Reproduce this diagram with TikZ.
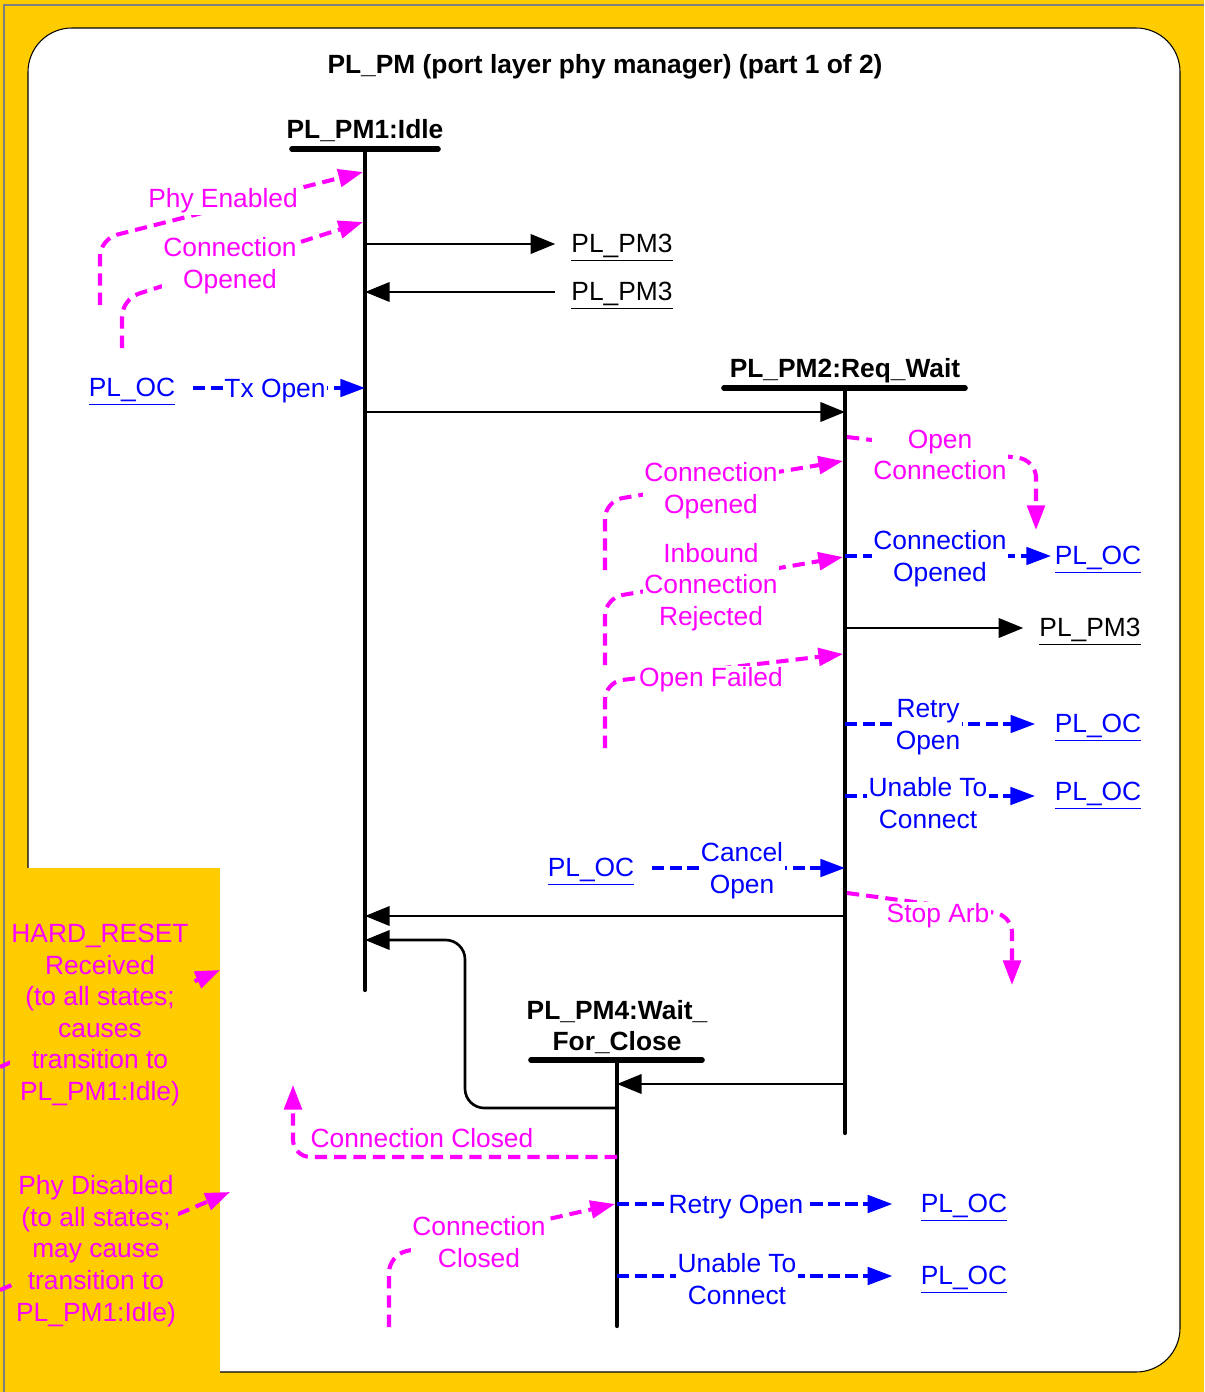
\documentclass[tikz,border=0pt]{standalone}
\usepackage{fontspec}
\setmainfont{Liberation Sans}
\usepackage{xcolor}
\usepackage{tikz}
\usetikzlibrary{arrows.meta}
\definecolor{panelyellow}{HTML}{FFCC00}
\definecolor{evtmagenta}{HTML}{FF00FF}
\definecolor{sigblue}{HTML}{0000FF}

\tikzset{
  statename/.style={font=\fontsize{15}{18}\selectfont\bfseries, align=center, inner sep=1pt, yshift=-1.7pt},
  statebar/.style={line width=3.2pt, line cap=round},
  lifeline/.style={line width=2.4pt, line cap=round},
  trans/.style={line width=1.5pt, -{Triangle[length=14pt, width=11pt]}},
  sig/.style={sigblue, line width=1.8pt, dash pattern=on 7pt off 3pt, -{Triangle[length=14pt, width=10pt]}},
  evt/.style={evtmagenta, line width=2.3pt, dash pattern=on 7pt off 4pt, rounded corners=10pt, -{Triangle[length=14pt, width=10pt]}},
  sigtext/.style={text=sigblue, fill=white, align=center, inner sep=1pt, yshift=-1.7pt},
  evttext/.style={text=evtmagenta, fill=white, align=center, inner sep=1pt, yshift=-1.7pt},
  notetext/.style={text=evtmagenta, fill=panelyellow, align=center, inner sep=1pt, yshift=-1.7pt},
  oclink/.style={text=sigblue, inner sep=2pt, text height=11pt, text depth=1pt},
  pmref/.style={inner sep=2pt, text height=11pt, text depth=1pt}
}

\begin{document}
\begin{tikzpicture}[x=0.02cm, y=-0.02cm, font=\fontsize{15}{18}\selectfont]
  \fill[panelyellow] (0,0) rectangle (1204,1392);
  \useasboundingbox (0,0) rectangle (1204,1392);
  \draw[gray, line width=0.8pt] (4,1392) -- (4,5) -- (1204,5);
  \filldraw[fill=white, draw=black, line width=0.6pt, rounded corners=25pt] (28,28) rectangle (1180,1372);
  \fill[panelyellow] (5,868) rectangle (220,1392);

  \node[statename] (title) at (605,64) {PL\_PM (port layer phy manager) (part 1 of 2)};

  % states
  \node[statename] (pm1) at (365,128) {PL\_PM1:Idle};
  \coordinate (pm1top) at (365,149);
  \coordinate (pm1end) at (365,990);
  \draw[statebar] (292,149) -- (438,149);
  \draw[lifeline] (pm1top) -- (pm1end);

  \node[statename] (pm2) at (845,368) {PL\_PM2:Req\_Wait};
  \coordinate (pm2top) at (845,388);
  \coordinate (pm2end) at (845,1133);
  \draw[statebar] (724,388) -- (965,388);
  \draw[lifeline] (pm2top) -- (pm2end);

  \node[statename] (pm4) at (617,1024) {PL\_PM4:Wait\_\\For\_Close};
  \coordinate (pm4top) at (617,1060);
  \coordinate (pm4end) at (617,1326);
  \draw[statebar] (531,1060) -- (702,1060);
  \draw[lifeline] (pm4top) -- (pm4end);

  % transitions
  \node[pmref] (pm3a) at (622,244) {\underline{PL\_PM3}};
  \node[pmref] (pm3b) at (622,292) {\underline{PL\_PM3}};
  \node[pmref] (pm3c) at (1090,628) {\underline{PL\_PM3}};
  \draw[trans, shorten >=7pt] (pm1top |- pm3a) -- (pm3a);
  \draw[trans, shorten <=7pt] (pm3b) -- (pm1top |- pm3b);
  \draw[trans, shorten >=7pt] (pm2top |- pm3c) -- (pm3c);

  \coordinate (t12) at (365,412);
  \coordinate (t21) at (845,916);
  \coordinate (t24) at (845,1084);
  \coordinate (t41) at (617,1108);
  \coordinate (t41c) at (465,940);
  \coordinate (t41e) at (365,940);
  \draw[trans] (t12) -- (pm2top |- t12);
  \draw[trans] (t21) -- (pm1top |- t21);
  \draw[trans] (t24) -- (pm4top |- t24);
  \draw[trans, rounded corners=11pt] (t41) -| (t41c) -- (t41e);

  % signals to and from PL_OC
  \node[oclink] (oc1) at (132,388) {\underline{PL\_OC}};
  \node[oclink] (oc2) at (1098,556) {\underline{PL\_OC}};
  \node[oclink] (oc3) at (1098,724) {\underline{PL\_OC}};
  \node[oclink] (oc4) at (1098,792) {\underline{PL\_OC}};
  \node[oclink] (oc5) at (591,868) {\underline{PL\_OC}};
  \node[oclink] (oc6) at (964,1204) {\underline{PL\_OC}};
  \node[oclink] (oc7) at (964,1276) {\underline{PL\_OC}};
  \coordinate (u1t) at (1035,796);
  \draw[sig, shorten <=8pt] (oc1) -- (pm1top |- oc1);
  \draw[sig] (pm2top |- oc2) -- (oc2);
  \draw[sig, shorten >=9pt] (pm2top |- oc3) -- (oc3);
  \draw[sig] (pm2top |- u1t) -- (u1t);
  \draw[sig, shorten <=8pt] (oc5) -- (pm2top |- oc5);
  \draw[sig, shorten >=14pt] (pm4top |- oc6) -- (oc6);
  \draw[sig, shorten >=14pt] (pm4top |- oc7) -- (oc7);
  \node[sigtext] (txopen) at (275,388) {Tx Open};
  \node[sigtext] (conop2) at (940,556) {Connection\\Opened};
  \node[sigtext] (retry1) at (928,724) {Retry\\Open};
  \node[sigtext] (unable1) at (928,800) {Unable To\\Connect};
  \node[sigtext] (cancel) at (742,868) {Cancel\\Open};
  \node[sigtext] (retry2) at (736,1204) {Retry Open};
  \node[sigtext] (unable2) at (737,1276) {Unable To\\Connect};

  % events
  \coordinate (phyen) at (100,305);
  \coordinate (phyenT) at (363,172);
  \coordinate (conop1) at (122,348);
  \coordinate (conop1T) at (363,222);
  \draw[evt] (phyen) -- (100,239) -- (phyenT);
  \draw[evt] (conop1) -- (122,299) -- (conop1T);

  \coordinate (conop3) at (605,570);
  \coordinate (conop3T) at (843,461);
  \coordinate (inbound) at (605,665);
  \coordinate (inboundT) at (843,557);
  \coordinate (opfail) at (605,748);
  \coordinate (opfailT) at (843,654);
  \draw[evt] (conop3) -- (605,501) -- (conop3T);
  \draw[evt] (inbound) -- (605,598) -- (inboundT);
  \draw[evt] (opfail) -- (605,682) -- (opfailT);

  \coordinate (opcon) at (847,437);
  \coordinate (opconT) at (1036,530);
  \coordinate (stoparb) at (847,893);
  \coordinate (stoparbT) at (1012,985);
  \draw[evt] (opcon) -- (1036,460) -- (opconT);
  \draw[evt] (stoparb) -- (1012,915) -- (stoparbT);

  \coordinate (closed1) at (617,1157);
  \coordinate (closed1T) at (293,1085);
  \coordinate (closed2) at (389,1327);
  \coordinate (closed2T) at (615,1204);
  \draw[evt] (closed1) -| (closed1T);
  \draw[evt] (closed2) -- (389,1255) -- (closed2T);

  \coordinate (hardrst) at (0,1067);
  \coordinate (hardrstT) at (220,970);
  \coordinate (phydis) at (0,1290);
  \coordinate (phydisT) at (230,1192);
  \draw[evt] (hardrst) -- (hardrstT);
  \draw[evt] (phydis) -- (phydisT);

  \node[evttext] (lphyen) at (223,198) {Phy Enabled};
  \node[evttext] (lconop1) at (230,263) {Connection\\Opened};
  \node[evttext] (lconop3) at (711,488) {Connection\\Opened};
  \node[evttext] (linbound) at (711,584) {Inbound\\Connection\\Rejected};
  \node[evttext] (lopfail) at (711,677) {Open Failed};
  \node[evttext] (lopcon) at (940,452) {Open\\Connection};
  \node[evttext] (lstoparb) at (938,913) {Stop Arb};
  \node[evttext] (lclosed1) at (422,1135) {Connection Closed};
  \node[evttext] (lclosed2) at (479,1239) {Connection\\Closed};
  \node[notetext] (lhardrst) at (100,1012) {HARD\_RESET\\Received\\(to all states;\\causes\\transition to\\PL\_PM1:Idle)};
  \node[notetext] (lphydis) at (96,1248) {Phy Disabled\\(to all states;\\may cause\\transition to\\PL\_PM1:Idle)};
\end{tikzpicture}
\end{document}
